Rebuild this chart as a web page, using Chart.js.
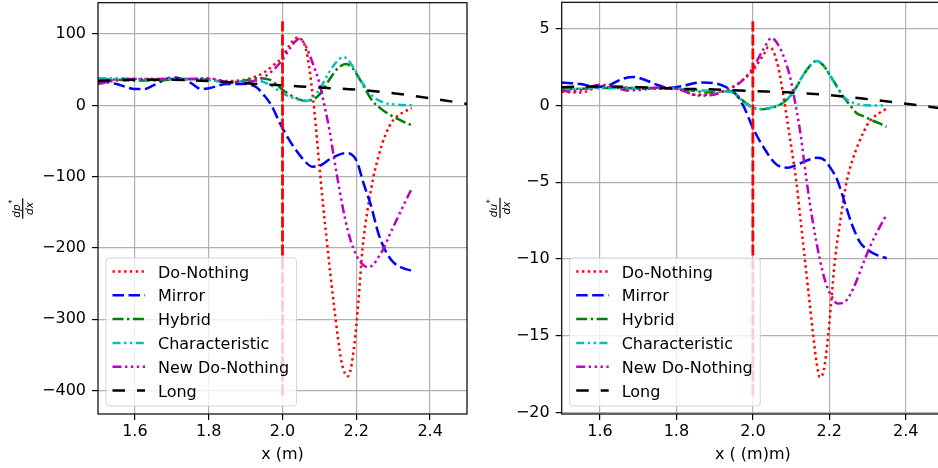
<!DOCTYPE html>
<html>
<head>
<meta charset="utf-8">
<script src="https://cdn.jsdelivr.net/npm/chart.js@4.4.0/dist/chart.umd.min.js"></script>
<style>
  html, body { margin: 0; padding: 0; overflow: hidden; background: #fff; width: 938px; height: 468px; }
  canvas { position: absolute; top: 0; }
  #left { left: 0; }
  #right { left: 470px; }
</style>
</head>
<body>
<canvas id="left" width="470" height="468"></canvas>
<canvas id="right" width="477" height="468"></canvas>
<script>
// ---------- shared ----------
const labels = ['Do-Nothing', 'Mirror', 'Hybrid', 'Characteristic', 'New Do-Nothing', 'Long'];
const xTicks = [1.6, 1.8, 2.0, 2.2, 2.4];
const pTicks = [100, 0, -100, -200, -300, -400];
const uTicks = [5, 0, -5, -10, -15, -20];
const longX = [1.5, 1.6, 1.7, 1.8, 1.9, 2.0, 2.1, 2.2, 2.3, 2.4, 2.5];
const wallX = 2.0;

// ---------- left panel: dp*/dx ----------
const pDoNothingX = [1.5, 1.55, 1.6, 1.65, 1.7, 1.75, 1.8, 1.85, 1.9, 1.925, 1.95, 1.975, 2.0, 2.02, 2.04, 2.052, 2.064, 2.072, 2.078, 2.086, 2.093, 2.1, 2.11, 2.12, 2.13, 2.14, 2.15, 2.16, 2.17, 2.177, 2.185, 2.195, 2.205, 2.217, 2.23, 2.24, 2.25, 2.26, 2.27, 2.28, 2.29, 2.3, 2.32, 2.35];
const pDoNothingY = [32, 36, 37, 37, 37, 37, 37, 34, 36, 40, 46, 56, 68, 85, 95, 92, 78, 55, 31, -6, -45, -85, -140, -190, -238, -283, -325, -360, -377, -380, -370, -335, -280, -200, -148, -118, -92, -72, -54, -40, -29, -21, -12, -4];

const pMirrorX = [1.5, 1.55, 1.6, 1.625, 1.65, 1.7, 1.72, 1.75, 1.78, 1.8, 1.85, 1.9, 1.93, 1.95, 1.97, 1.99, 2.0, 2.03, 2.06, 2.08, 2.1, 2.13, 2.17, 2.2, 2.22, 2.24, 2.26, 2.28, 2.3, 2.325, 2.35];
const pMirrorY = [35, 30, 23, 23, 28, 39, 38, 32, 23, 24, 30, 30, 25, 14, 0, -22, -32, -58, -78, -86, -85, -75, -67, -77, -110, -141, -180, -205, -220, -228, -232];

const pHybridX = [1.5, 1.55, 1.6, 1.65, 1.7, 1.75, 1.8, 1.85, 1.9, 1.93, 1.965, 2.0, 2.03, 2.06, 2.08, 2.1, 2.127, 2.15, 2.172, 2.19, 2.21, 2.244, 2.27, 2.29, 2.32, 2.35];
const pHybridY = [37, 36, 35, 35, 36, 37, 36, 32, 35, 38, 36, 22, 12, 6.5, 8, 15, 36, 52, 58, 52, 36, 6, -6, -13, -21, -28];

const pCharX = [1.5, 1.55, 1.6, 1.65, 1.7, 1.75, 1.8, 1.85, 1.9, 1.93, 1.965, 2.0, 2.037, 2.064, 2.08, 2.1, 2.127, 2.15, 2.165, 2.19, 2.217, 2.244, 2.28, 2.31, 2.35];
const pCharY = [38, 38, 37, 36, 37, 37, 36, 32, 34, 35, 29, 17, 9, 6, 10, 22, 47, 63, 68, 55, 31, 13, 3, 1, 0];

const pNewX = [1.5, 1.55, 1.6, 1.65, 1.7, 1.75, 1.8, 1.85, 1.9, 1.95, 1.98, 2.0, 2.02, 2.045, 2.059, 2.082, 2.1, 2.114, 2.127, 2.14, 2.155, 2.17, 2.185, 2.2, 2.215, 2.23, 2.245, 2.26, 2.275, 2.29, 2.31, 2.33, 2.35];
const pNewY = [30, 35, 37, 37, 37, 37, 38, 33, 33, 40, 52, 64, 80, 93, 87, 59, 31, -1, -34, -75, -120, -160, -190, -210, -222, -227, -224, -213, -200, -182, -160, -138, -117];

const pLongY = [34, 36, 36, 34, 31, 28, 25, 22, 17, 10, 2];
const pWallY = [-407, 118];

// ---------- right panel: du*/dx ----------
const uDoNothingX = [1.5, 1.55, 1.6, 1.65, 1.7, 1.75, 1.8, 1.85, 1.9, 1.93, 1.96, 2.0, 2.03, 2.04, 2.05, 2.066, 2.079, 2.092, 2.103, 2.114, 2.125, 2.136, 2.147, 2.158, 2.167, 2.175, 2.185, 2.197, 2.206, 2.215, 2.23, 2.245, 2.26, 2.276, 2.29, 2.306, 2.33, 2.35];
const uDoNothingY = [0.9, 0.85, 1.2, 1.2, 1.1, 1.1, 1.1, 0.7, 0.75, 1.0, 1.4, 2.3, 3.4, 3.8, 3.7, 2.55, 0.8, -1.3, -3.1, -5, -7.5, -10, -12.5, -15, -16.8, -17.7, -17.3, -15, -12.5, -10, -7.3, -5, -3.6, -2.5, -1.7, -1.0, -0.5, -0.2];

const uMirrorX = [1.5, 1.55, 1.59, 1.63, 1.66, 1.69, 1.72, 1.75, 1.78, 1.82, 1.86, 1.9, 1.93, 1.95, 1.975, 2.0, 2.03, 2.06, 2.09, 2.12, 2.15, 2.17, 2.19, 2.2, 2.22, 2.24, 2.26, 2.28, 2.3, 2.325, 2.35];
const uMirrorY = [1.5, 1.4, 1.2, 1.4, 1.75, 1.86, 1.65, 1.35, 1.15, 1.3, 1.5, 1.45, 1.2, 0.9, 0, -1.45, -2.8, -3.8, -4.05, -3.8, -3.5, -3.4, -3.6, -3.95, -4.8, -6.3, -7.8, -8.9, -9.4, -9.75, -9.95];

const uHybridX = [1.5, 1.55, 1.6, 1.65, 1.7, 1.75, 1.8, 1.85, 1.88, 1.91, 1.94, 1.96, 1.98, 2.0, 2.018, 2.04, 2.062, 2.08, 2.097, 2.115, 2.132, 2.15, 2.167, 2.185, 2.201, 2.22, 2.236, 2.255, 2.271, 2.29, 2.306, 2.33, 2.35];
const uHybridY = [1.05, 1.1, 1.15, 1.15, 1.15, 1.15, 1.1, 0.95, 0.85, 0.9, 0.95, 0.65, 0.2, -0.12, -0.24, -0.2, -0.04, 0.2, 0.6, 1.25, 2.0, 2.6, 2.92, 2.6, 2.0, 1.25, 0.6, 0.0, -0.48, -0.7, -0.9, -1.15, -1.38];

const uCharX = [1.5, 1.55, 1.6, 1.65, 1.7, 1.75, 1.8, 1.85, 1.9, 1.94, 1.96, 1.98, 2.0, 2.02, 2.04, 2.062, 2.08, 2.097, 2.115, 2.132, 2.15, 2.167, 2.185, 2.201, 2.22, 2.236, 2.254, 2.27, 2.28, 2.3, 2.325, 2.35];
const uCharY = [1.0, 1.1, 1.15, 1.15, 1.15, 1.15, 1.1, 1.0, 0.95, 0.9, 0.6, 0.15, -0.15, -0.22, -0.17, -0.02, 0.2, 0.6, 1.25, 2.0, 2.6, 2.9, 2.6, 2.0, 1.2, 0.6, 0.28, 0.12, 0.06, 0.02, 0.0, 0.0];

const uNewX = [1.5, 1.52, 1.55, 1.6, 1.63, 1.67, 1.7, 1.76, 1.8, 1.86, 1.9, 1.93, 1.965, 2.0, 2.027, 2.049, 2.07, 2.079, 2.097, 2.114, 2.125, 2.14, 2.157, 2.175, 2.19, 2.205, 2.222, 2.24, 2.255, 2.27, 2.29, 2.31, 2.33, 2.35];
const uNewY = [1.0, 0.9, 1.0, 1.35, 1.3, 0.99, 1.0, 1.2, 1.1, 0.65, 0.72, 1.04, 1.47, 2.45, 3.64, 4.4, 3.8, 3.3, 1.9, -0.26, -1.9, -4.8, -7.6, -10, -11.5, -12.4, -12.9, -12.8, -12.3, -11.5, -10.2, -9.0, -8.0, -7.1];

const uLongY = [1.2, 1.25, 1.2, 1.1, 1.05, 0.95, 0.85, 0.68, 0.42, 0.12, -0.2];
const uWallY = [-18.9, 5.5];

// ---------- styles ----------
const colors = ['#ff0000', '#0000ff', '#008000', '#00bfbf', '#bf00bf', '#000000'];
const dashes = [[2.4, 3.4], [11.5, 4.5], [11, 3.5, 2.4, 3.5], [8, 3.5, 2.4, 3.5, 2.4, 3.5], [9, 3.5, 2.4, 3.5, 2.4, 3.5, 2.4, 3.5], [12.5, 12]];

Chart.defaults.font.family = '"DejaVu Sans", sans-serif';
Chart.defaults.font.size = 16;
Chart.defaults.color = '#000';

function pts(xs, ys) {
  return xs.map((x, i) => ({ x: x, y: ys[i] }));
}

function minus(v) {
  return String(v).replace('-', '\u2212');
}

// four spines
const frame = {
  id: 'frame',
  afterDatasetsDraw(chart) {
    const ctx = chart.ctx, ca = chart.chartArea;
    ctx.save();
    ctx.strokeStyle = '#000';
    ctx.lineWidth = 1.2;
    ctx.strokeRect(ca.left, ca.top, ca.right - ca.left, ca.bottom - ca.top);
    ctx.restore();
  }
};

// matplotlib-like legend box in the lower left of the axes
const boxLegend = {
  id: 'boxLegend',
  afterDraw(chart) {
    const ctx = chart.ctx, ca = chart.chartArea;
    const items = chart.data.datasets.filter(d => labels.includes(d.label));
    ctx.save();
    ctx.font = '16px "DejaVu Sans"';
    const textW = Math.max(...items.map(d => ctx.measureText(d.label).width));
    const rowH = 23.8;
    const w = 52 + textW + 7.5, h = 148;
    const x0 = ca.left + 8, y0 = ca.bottom - 8 - h;
    ctx.beginPath();
    ctx.roundRect(x0, y0, w, h, 3);
    ctx.fillStyle = 'rgba(255,255,255,0.8)';
    ctx.fill();
    ctx.strokeStyle = 'rgba(204,204,204,0.8)';
    ctx.lineWidth = 1;
    ctx.stroke();
    items.forEach((d, i) => {
      const cy = y0 + 13.5 + i * rowH;
      ctx.beginPath();
      ctx.setLineDash(d.borderDash);
      ctx.strokeStyle = d.borderColor;
      ctx.lineWidth = d.borderWidth;
      ctx.lineCap = 'butt';
      ctx.moveTo(x0 + 6.5, cy);
      ctx.lineTo(x0 + 39, cy);
      ctx.stroke();
      ctx.setLineDash([]);
      ctx.fillStyle = '#000';
      ctx.textBaseline = 'alphabetic';
      ctx.fillText(d.label, x0 + 52, cy + 6);
    });
    ctx.restore();
  }
};

// rotated fraction as y-axis label
function fracLabel(cx, cy, top, bottom) {
  return {
    id: 'frac',
    afterDraw(chart) {
      const ctx = chart.ctx;
      ctx.save();
      ctx.translate(cx, cy);
      ctx.rotate(-Math.PI / 2);
      ctx.fillStyle = '#000';
      ctx.font = 'italic 10.5px "DejaVu Sans"';
      const wn = ctx.measureText(top).width;
      const wd = ctx.measureText(bottom).width;
      const bw = Math.max(wn + 5, wd) + 2;
      ctx.fillRect(-bw / 2, -0.6, bw, 1.2);
      ctx.textBaseline = 'alphabetic';
      ctx.textAlign = 'left';
      ctx.fillText(top, -(wn + 5) / 2, -3.2);
      ctx.font = '8px "DejaVu Sans"';
      ctx.fillText('*', -(wn + 5) / 2 + wn + 0.5, -7.5);
      ctx.font = 'italic 10.5px "DejaVu Sans"';
      ctx.textAlign = 'center';
      ctx.fillText(bottom, 0, 10);
      ctx.restore();
    }
  };
}

function makeChart(id, series, wallY, yMin, yMax, yTicks, xTitle, pad, yAxisW, frac) {
  const datasets = series.map((s, i) => ({
    label: labels[i],
    data: s,
    borderColor: colors[i],
    borderDash: dashes[i],
    borderWidth: 2.5,
    borderCapStyle: 'butt',
    pointRadius: 0,
    fill: false,
    cubicInterpolationMode: 'monotone',
    order: 10 - i
  }));
  datasets.push({
    label: 'wall',
    data: [{ x: wallX, y: wallY[0] }, { x: wallX, y: wallY[1] }],
    borderColor: '#ff0000',
    borderDash: [11, 3],
    borderWidth: 2.8,
    pointRadius: 0,
    tension: 0,
    order: 0
  });

  new Chart(document.getElementById(id), {
    type: 'line',
    data: { datasets: datasets },
    options: {
      responsive: false,
      animation: false,
      devicePixelRatio: 1,
      layout: { padding: pad },
      plugins: { legend: { display: false }, tooltip: { enabled: false } },
      scales: {
        x: {
          type: 'linear', min: 1.5, max: 2.5,
          afterBuildTicks: s => { s.ticks = xTicks.map(v => ({ value: v })); },
          afterFit: s => { s.height = 54; s.paddingLeft = 0; s.paddingRight = 0; },
          ticks: { callback: v => v.toFixed(1), padding: 2, maxRotation: 0, autoSkip: false },
          grid: { color: '#b0b0b0', lineWidth: 1.2, tickLength: 6, tickColor: '#000', tickWidth: 1.2 },
          border: { display: false },
          title: { display: true, text: xTitle, padding: { top: 0, bottom: 4 } }
        },
        y: {
          type: 'linear', min: yMin, max: yMax,
          afterBuildTicks: s => { s.ticks = yTicks.map(v => ({ value: v })); },
          afterFit: s => { s.width = yAxisW; s.paddingTop = 0; s.paddingBottom = 0; },
          ticks: { callback: v => minus(v), padding: 6, autoSkip: false },
          grid: { color: '#b0b0b0', lineWidth: 1.2, tickLength: 6, tickColor: '#000', tickWidth: 1.2 },
          border: { display: false }
        }
      }
    },
    plugins: [frame, boxLegend, frac]
  });
}

makeChart('left',
  [pts(pDoNothingX, pDoNothingY), pts(pMirrorX, pMirrorY), pts(pHybridX, pHybridY),
   pts(pCharX, pCharY), pts(pNewX, pNewY), pts(longX, pLongY)],
  pWallY, -433, 144, pTicks, 'x (m)',
  { left: 0, top: 2.7, right: 3, bottom: 0 }, 98,
  fracLabel(22.7, 208.5, 'dp', 'dx'));

makeChart('right',
  [pts(uDoNothingX, uDoNothingY), pts(uMirrorX, uMirrorY), pts(uHybridX, uHybridY),
   pts(uCharX, uCharY), pts(uNewX, uNewY), pts(longX, uLongY)],
  uWallY, -20.1, 6.73, uTicks, 'x ( (m)m)',
  { left: 0, top: 2.3, right: 3, bottom: 0 }, 91.7,
  fracLabel(30, 208, 'du', 'dx'));
</script>
</body>
</html>
